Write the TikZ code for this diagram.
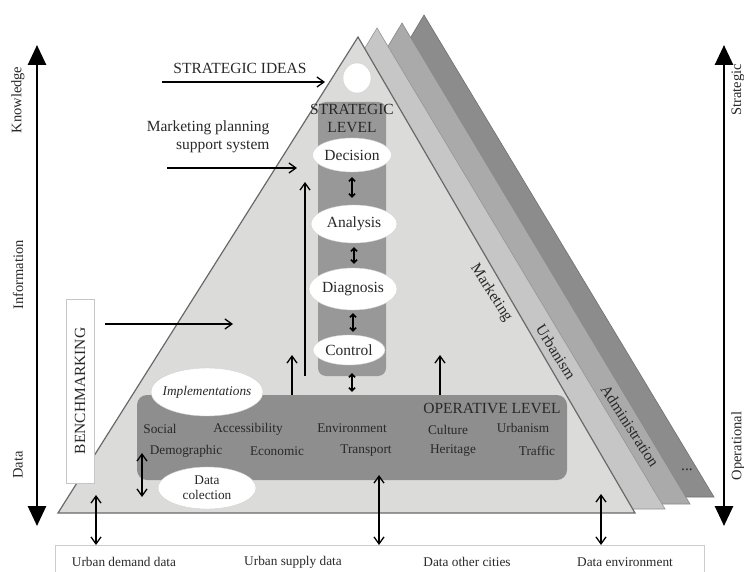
\documentclass[tikz,border=0pt]{standalone}
\usepackage{fontspec}
\setmainfont{Liberation Serif}
\usetikzlibrary{arrows.meta}
\usetikzlibrary{shapes.geometric}

\definecolor{tri1}{RGB}{219,219,217}
\definecolor{tri2}{RGB}{198,198,198}
\definecolor{tri3}{RGB}{170,170,170}
\definecolor{tri4}{RGB}{140,140,140}
\definecolor{colgray}{RGB}{152,152,152}
\definecolor{opgray}{RGB}{142,142,142}
\definecolor{edgegray}{RGB}{105,105,105}
\definecolor{txt}{RGB}{40,40,40}

\tikzset{
	bubble/.style={ellipse, fill=white, draw=gray!35, inner sep=0pt},
	bigtxt/.style={font=\fontsize{15.5}{18}\selectfont},
	midtxt/.style={font=\fontsize{13.3}{15}\selectfont},
	axtxt/.style={font=\fontsize{14.5}{16}\selectfont, rotate=90},
	arr/.style={-{Straight Barb[length=7pt,width=10pt]}, line width=1.3pt},
	dbl/.style={{Straight Barb[length=7pt,width=10pt]}-{Straight Barb[length=7pt,width=10pt]}, line width=1.3pt},
	updown/.style={{Straight Barb[length=3pt,width=6pt]}-{Straight Barb[length=3pt,width=6pt]}, line width=1.5pt},
	axis/.style={{Triangle[length=20pt,width=18pt]}-{Triangle[length=20pt,width=18pt]}, line width=2.8pt}
}

\begin{document}
\begin{tikzpicture}[x=1pt, y=-1pt, every node/.style={text=txt}]

	\useasboundingbox (0,0) rectangle (744,572);

	% pyramids, back to front
	\filldraw[fill=tri4, draw=tri4!80!black, line width=0.6pt] (137,497) -- (424,15) -- (714,497) -- cycle;
	\filldraw[fill=tri3, draw=tri3!80!black, line width=0.6pt] (113,504) -- (402,23) -- (690,504) -- cycle;
	\filldraw[fill=tri2, draw=tri2!75!black, line width=0.6pt] (88,509) -- (377,28) -- (665,509) -- cycle;
	\filldraw[fill=tri1, draw=edgegray, line width=1.2pt] (58,513) -- (358,37) -- (635,513) -- cycle;

	\node[bigtxt, rotate=-57] (mkt) at (491,293) {Marketing};
	\node[bigtxt, rotate=-58] (urb) at (556,352) {Urbanism};
	\node[bigtxt, rotate=-57] (adm) at (630,426) {Administration};
	\node[bigtxt] (more) at (687,470) {...};

	% strategic level
	\node[fill=colgray, rounded corners=8pt, minimum width=68, minimum height=274] (strat) at (352,239) {};
	\node[bubble, minimum width=28, minimum height=30] (idea) at (357,78) {};
	\node[bigtxt, align=center] (stratlbl) at (352,118) {STRATEGIC\\LEVEL};

	\node[bubble, bigtxt, minimum width=79, minimum height=34] (dec) at (352,155) {Decision};
	\node[bubble, bigtxt, minimum width=86, minimum height=38] (ana) at (354,224) {Analysis};
	\node[bubble, bigtxt, minimum width=88, minimum height=42] (dia) at (353,289) {Diagnosis};
	\node[bubble, bigtxt, minimum width=72, minimum height=30] (ctl) at (349,350) {Control};

	% operative level
	\node[fill=opgray, rounded corners=10pt, minimum width=430, minimum height=85] (ops) at (352,437.5) {};
	\node[bigtxt] (opslbl) at (492,408) {OPERATIVE LEVEL};

	\node[midtxt] (social) at (160,429) {Social};
	\node[midtxt] (access) at (248,429) {Accessibility};
	\node[midtxt] (environ) at (352,428) {Environment};
	\node[midtxt] (culture) at (448,430) {Culture};
	\node[midtxt] (urbanism) at (523,428) {Urbanism};
	\node[midtxt] (demog) at (186,451) {Demographic};
	\node[midtxt] (econ) at (277,451) {Economic};
	\node[midtxt] (transp) at (366,451) {Transport};
	\node[midtxt] (herit) at (453,451) {Heritage};
	\node[midtxt] (traffic) at (537,451) {Traffic};

	\node[bubble, midtxt, inner xsep=-6pt, minimum width=112, minimum height=48] (impl) at (207,392) {\itshape Implementations};
	\node[bubble, midtxt, align=center, minimum width=98, minimum height=42] (collect) at (207,488) {Data\\colection};

	% inputs from the left
	\node[bigtxt] (ideas) at (240,68) {STRATEGIC IDEAS};
	\node[bigtxt, align=right, anchor=east] (mpss) at (273,137) {Marketing planning\\support system};
	\node[bigtxt, draw=gray!45, fill=white, rotate=90, inner sep=0pt, minimum width=184, minimum height=28] (bench) at (80,391) {BENCHMARKING};

	\coordinate (ideas from) at (162,82);
	\coordinate (ideas to) at (325,82);
	\coordinate (mpss from) at (167,168);
	\coordinate (mpss to) at (297,168);
	\coordinate (bench from) at (105,324);
	\coordinate (bench to) at (233,324);
	\coordinate (feed base) at (305,376);
	\coordinate (feed top) at (305,182);
	\coordinate (up a) at (292,355);
	\coordinate (up b) at (440,355);

	\draw[arr] (ideas from) -- (ideas to);
	\draw[arr] (mpss from) -- (mpss to);
	\draw[arr] (bench from) -- (bench to);
	\draw[arr] (feed base) -- (feed top);
	\draw[arr] (ops.north -| up a) -- (up a);
	\draw[arr] (ops.north -| up b) -- (up b);

	% between the steps
	\draw[updown, shorten <=5pt, shorten >=7pt] (dec.south) -- (dec.south |- ana.north);
	\draw[updown, shorten <=4pt, shorten >=4pt] (ana.south) -- (ana.south |- dia.north);
	\draw[updown, shorten <=3pt, shorten >=3pt] (dia.south) -- (dia.south |- ctl.north);
	\draw[updown, shorten <=-3pt, shorten >=3pt] (strat.south) -- (strat.south |- ops.north);

	\coordinate (dc top) at (142,453);
	\coordinate (dc bot) at (142,497);
	\draw[dbl] (dc top) -- (dc bot);

	% data sources
	\draw[gray!40, line width=0.8pt] (55,573) -- (55,545) coordinate (dtop) -- (704,545) -- (704,573);
	\node[midtxt] (demand) at (124,562) {Urban demand data};
	\node[midtxt] (supply) at (293,562) {Urban supply data};
	\node[midtxt] (cities) at (467,562) {Data other cities};
	\node[midtxt] (envdata) at (625,562) {Data environment};

	\coordinate (in a) at (96,495);
	\coordinate (in b) at (379,475);
	\coordinate (in c) at (601,494);
	\draw[dbl] (in a) -- (in a |- dtop);
	\draw[dbl] (in b) -- (in b |- dtop);
	\draw[dbl] (in c) -- (in c |- dtop);

	% axes
	\coordinate (left top) at (37,45);
	\coordinate (left bot) at (37,526);
	\coordinate (right top) at (724,45);
	\coordinate (right bot) at (724,526);
	\draw[axis] (left bot) -- (left top);
	\draw[axis] (right bot) -- (right top);

	\node[axtxt] (knowledge) at (18,100) {Knowledge};
	\node[axtxt] (information) at (18,275) {Information};
	\node[axtxt] (datalbl) at (18,465) {Data};
	\node[axtxt] (strategic) at (738,90) {Strategic};
	\node[axtxt] (operational) at (738,446) {Operational};

\end{tikzpicture}
\end{document}
